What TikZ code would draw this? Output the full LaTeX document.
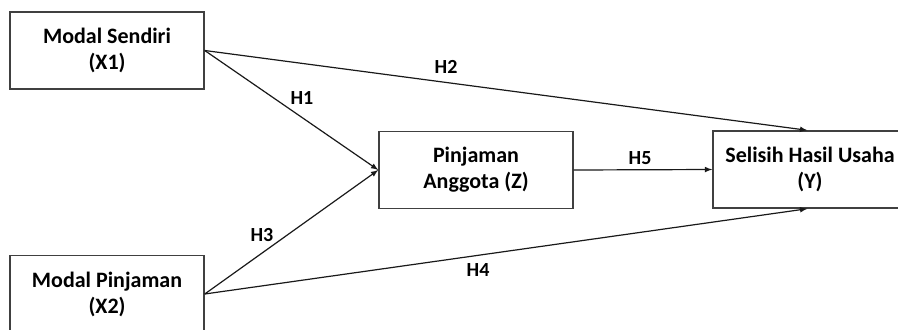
\documentclass[tikz,border=0pt]{standalone}
\usepackage{fontspec}
\setmainfont{Carlito}
\usetikzlibrary{arrows}
\tikzstyle{varbox} = [draw=black!75, fill=white, line width=1.1pt,
    rectangle, minimum width=145.5pt, minimum height=57.75pt, align=center,
    font=\bfseries\fontsize{16.5}{19.5}\selectfont]
\tikzstyle{hyplabel} =[font=\bfseries\fontsize{15}{18}\selectfont, inner sep=0pt]
\tikzstyle{path} = [->, >=latex, line width=0.9pt, black!90]

\begin{document}
\begin{tikzpicture}[x=0.75pt, y=-0.75pt]
                \clip (0,0) rectangle (898,329);
                \node [varbox] (x1) at (107,50.5) {Modal Sendiri\\(X1)};
                \node [varbox] (x2) at (107,294) {Modal Pinjaman\\(X2)};
                \node [varbox] (z) at (476,170) {Pinjaman\\Anggota (Z)};
                \node [varbox] (y) at (810,169.5) {Selisih Hasil Usaha\\(Y)};
                % paths
                \draw [path] (x1.east) -- (z.west);
                \draw [path] (x2.east) -- (z.west);
                \draw [path] (x1.east) -- ([xshift=-2pt]y.north);
                \draw [path] (x2.east) -- ([xshift=-2pt]y.south);
                \draw [path] (z.east) -- (y.west);
                % hypotheses
                \node [hyplabel] (h1) at (302,98) {H1};
                \node [hyplabel] (h2) at (446,67) {H2};
                \node [hyplabel] (h3) at (262,235) {H3};
                \node [hyplabel] (h4) at (478,270) {H4};
                \node [hyplabel] (h5) at (640,158) {H5};
            \end{tikzpicture}
\end{document}
